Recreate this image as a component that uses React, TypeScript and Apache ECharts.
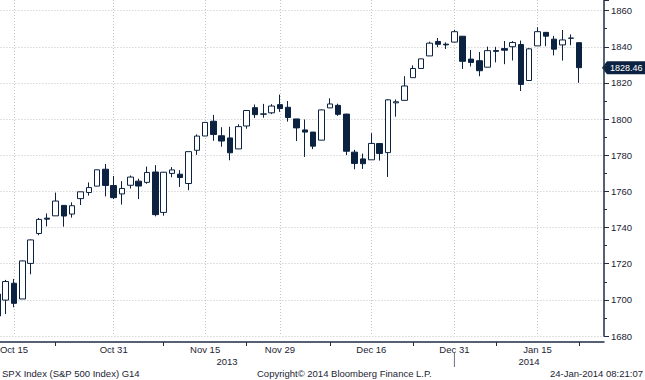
import React, { useEffect, useRef } from "react";
import * as echarts from "echarts";

const dates = [
  "Oct 11", "Oct 14", "Oct 15", "Oct 16", "Oct 17", "Oct 18", "Oct 21", "Oct 22", "Oct 23", "Oct 24",
  "Oct 25", "Oct 28", "Oct 29", "Oct 30", "Oct 31", "Nov 1", "Nov 4", "Nov 5", "Nov 6", "Nov 7",
  "Nov 8", "Nov 11", "Nov 12", "Nov 13", "Nov 14", "Nov 15", "Nov 18", "Nov 19", "Nov 20", "Nov 21",
  "Nov 22", "Nov 25", "Nov 26", "Nov 27", "Nov 29", "Dec 2", "Dec 3", "Dec 4", "Dec 5", "Dec 6",
  "Dec 9", "Dec 10", "Dec 11", "Dec 12", "Dec 13", "Dec 16", "Dec 17", "Dec 18", "Dec 19", "Dec 20",
  "Dec 23", "Dec 24", "Dec 26", "Dec 27", "Dec 30", "Dec 31", "Jan 2", "Jan 3", "Jan 6", "Jan 7",
  "Jan 8", "Jan 9", "Jan 10", "Jan 13", "Jan 14", "Jan 15", "Jan 16", "Jan 17", "Jan 21", "Jan 22",
  "Jan 23", "Jan 24", "Jan 27", "Jan 28",
];

const opens = [
  1691.09, 1699.86, 1709.17, 1700.49, 1720.17, 1736.72, 1745.2, 1746.48, 1752.27, 1747.48,
  1756.01, 1759.42, 1762.93, 1772.27, 1763.24, 1758.61, 1763.4, 1765.67, 1765.0, 1770.74,
  1748.37, 1769.96, 1769.51, 1764.37, 1782.75, 1790.66, 1798.82, 1790.79, 1789.59, 1783.52,
  1796.19, 1806.33, 1802.87, 1803.48, 1808.01, 1806.55, 1800.1, 1794.01, 1792.82, 1788.36,
  1806.21, 1807.6, 1802.76, 1781.71, 1777.98, 1777.48, 1786.47, 1781.46, 1809.0, 1810.39,
  1822.92, 1828.02, 1834.96, 1842.97, 1841.47, 1842.61, 1845.86, 1833.21, 1832.31, 1828.71,
  1837.9, 1839.0, 1840.06, 1841.26, 1821.36, 1840.52, 1847.99, 1844.23, 1841.05, 1844.71,
  1842.29,
];
const highs = [
  1703.44, 1711.03, 1711.57, 1721.76, 1733.45, 1745.31, 1747.79, 1759.33, 1752.27, 1753.94,
  1759.82, 1764.99, 1772.09, 1775.22, 1768.53, 1765.67, 1768.78, 1767.03, 1773.74, 1774.54,
  1770.78, 1773.44, 1771.78, 1782.0, 1791.53, 1798.22, 1802.33, 1795.51, 1795.73, 1797.16,
  1804.84, 1808.1, 1808.42, 1808.27, 1813.55, 1810.02, 1800.1, 1799.8, 1792.82, 1805.34,
  1811.52, 1808.52, 1802.97, 1782.99, 1780.92, 1792.22, 1786.77, 1811.08, 1810.88, 1823.75,
  1829.75, 1833.32, 1842.84, 1844.89, 1842.47, 1849.44, 1845.86, 1838.24, 1837.16, 1840.1,
  1840.02, 1843.23, 1843.15, 1843.45, 1839.26, 1850.84, 1847.99, 1846.04, 1849.31, 1846.87,
  1842.29,
];
const lows = [
  1686.92, 1692.13, 1695.93, 1700.49, 1714.12, 1735.74, 1740.67, 1746.48, 1740.5, 1745.5,
  1752.45, 1757.67, 1762.93, 1757.24, 1755.72, 1752.7, 1761.56, 1755.76, 1764.23, 1746.2,
  1746.56, 1767.85, 1762.47, 1760.64, 1780.22, 1790.66, 1788.0, 1784.72, 1777.23, 1783.52,
  1794.7, 1800.58, 1800.77, 1802.77, 1803.98, 1798.6, 1787.85, 1779.09, 1783.38, 1788.36,
  1806.21, 1801.75, 1780.09, 1772.28, 1772.45, 1777.48, 1777.05, 1767.99, 1801.35, 1810.25,
  1822.92, 1828.02, 1834.96, 1839.81, 1838.77, 1842.41, 1827.74, 1829.13, 1823.73, 1828.71,
  1831.4, 1830.38, 1832.43, 1815.52, 1821.36, 1840.52, 1840.3, 1835.23, 1832.38, 1840.88,
  1820.06,
];
const closes = [
  1703.2, 1710.14, 1698.06, 1721.54, 1733.15, 1744.5, 1744.66, 1754.67, 1746.38, 1752.07,
  1759.77, 1762.11, 1771.95, 1763.31, 1756.54, 1761.64, 1767.93, 1762.97, 1770.49, 1747.15,
  1770.61, 1771.89, 1767.69, 1782.0, 1790.62, 1798.18, 1791.53, 1787.87, 1781.37, 1795.85,
  1804.76, 1802.48, 1802.75, 1807.23, 1805.81, 1800.9, 1795.15, 1792.81, 1785.03, 1805.09,
  1808.37, 1802.62, 1782.22, 1775.5, 1775.32, 1786.54, 1781.0, 1810.65, 1809.6, 1818.32,
  1827.99, 1833.32, 1842.02, 1841.4, 1841.07, 1848.36, 1831.98, 1831.37, 1826.77, 1837.88,
  1837.49, 1838.13, 1842.37, 1819.2, 1838.88, 1848.38, 1845.89, 1838.7, 1843.8, 1844.86,
  1828.46,
];

const labelDates = ["Oct 15", "Oct 31", "Nov 15", "Nov 29", "Dec 16", "Dec 31", "Jan 15"];
const tickDates = ["Oct 22", "Nov 8", "Nov 22", "Dec 9", "Dec 23", "Jan 8", "Jan 23"];
const yearLabels = ["2013", "2014"];
const yearBreakDate = "Dec 31";
const lastPrice = 1828.46;
const footerLeft = "SPX Index (S&P 500 Index) G14";
const footerMid = "Copyright\u00a9 2014 Bloomberg Finance L.P.";
const footerRight = "24-Jan-2014 08:21:07";

const NAVY = "#0c2241";
const AXIS = "#1f2d45";
const TEXT = "#1b2433";
const GRID = "#c4c4c4";
const FONT = '"Liberation Sans", Arial, sans-serif';

export default function App() {
  const ref = useRef<HTMLDivElement>(null);

  useEffect(() => {
    if (!ref.current) return;
    const chart = echarts.init(ref.current, null, { renderer: "svg" });
    const ohlc = opens.map((o, i) => [o, closes[i], lows[i], highs[i]]);

    chart.setOption({
      animation: false,
      backgroundColor: "#ffffff",
      grid: { left: -2.64, right: 41, top: 0, bottom: 44, outerBoundsMode: "none" },
      xAxis: {
        type: "category",
        data: dates,
        boundaryGap: false,
        offset: 6,
        axisLine: { show: true, lineStyle: { color: AXIS, width: 1.5 } },
        axisTick: {
          show: true,
          length: 4,
          interval: (_i: number, v: string) => tickDates.includes(v),
          lineStyle: { color: AXIS, width: 1 },
        },
        axisLabel: {
          interval: (_i: number, v: string) => labelDates.includes(v),
          margin: 2,
          fontSize: 9.5,
          fontFamily: FONT,
          color: TEXT,
        },
        splitLine: {
          show: true,
          interval: (_i: number, v: string) => labelDates.includes(v),
          lineStyle: { color: GRID, type: [1, 2], width: 1 },
        },
      },
      yAxis: {
        type: "value",
        position: "right",
        min: 1680,
        max: 1865.9,
        interval: 20,
        axisLine: { show: true, lineStyle: { color: AXIS, width: 1.5 } },
        axisTick: { show: true, length: 5, lineStyle: { color: AXIS } },
        minorTick: { show: true, splitNumber: 2, length: 3, lineStyle: { color: AXIS } },
        axisLabel: {
          showMaxLabel: false,
          margin: 7,
          fontSize: 9.5,
          fontFamily: FONT,
          color: TEXT,
          formatter: (v: number) => String(Math.round(v)),
        },
        splitLine: {
          show: true,
          showMaxLine: false,
          lineStyle: { color: GRID, type: [1, 2], width: 1 },
        },
      },
      series: [
        {
          type: "candlestick",
          data: ohlc,
          barWidth: 6,
          itemStyle: {
            color: "#ffffff",
            color0: NAVY,
            borderColor: NAVY,
            borderColor0: NAVY,
            borderColorDoji: NAVY,
            borderWidth: 1,
          },
        },
      ],
    });

    const y = chart.convertToPixel({ yAxisIndex: 0 }, lastPrice) as number;
    const xBreak = chart.convertToPixel({ xAxisIndex: 0 }, yearBreakDate) as number;
    const txt = (text: string, x: number, yy: number, align: string, size = 9.5, fill = TEXT) => ({
      type: "text",
      x,
      y: yy,
      silent: true,
      style: {
        text,
        fill,
        font: `${size}px ${FONT}`,
        textAlign: align,
        textVerticalAlign: "middle",
        verticalAlign: "middle",
      },
    });

    chart.setOption({
      graphic: [
        {
          type: "polygon",
          silent: true,
          shape: {
            points: [
              [602, y],
              [607, y - 6.5],
              [645, y - 6.5],
              [645, y + 6.5],
              [607, y + 6.5],
            ],
          },
          style: { fill: NAVY },
        },
        txt(lastPrice.toFixed(2), 610, y, "left", 9, "#ffffff"),
        {
          type: "line",
          silent: true,
          shape: { x1: xBreak, y1: 353, x2: xBreak, y2: 367 },
          style: { stroke: "#6a7280", lineWidth: 1 },
        },
        txt(yearLabels[0], 227, 361.7, "center"),
        txt(yearLabels[1], 529, 361.7, "center"),
        txt(footerLeft, 2, 373.5, "left"),
        txt(footerMid, 257, 373.5, "left"),
        txt(footerRight, 643, 373.5, "right"),
      ],
    });

    return () => chart.dispose();
  }, []);

  return (
    <div
      ref={ref}
      style={{ position: "absolute", left: 0, top: 0, width: 645, height: 380, background: "#fff" }}
    />
  );
}
